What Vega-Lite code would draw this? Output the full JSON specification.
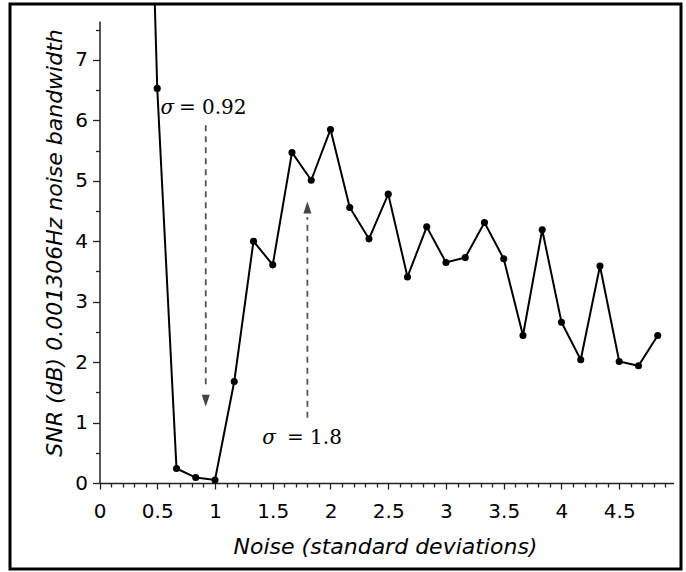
{
  "$schema": "https://vega.github.io/schema/vega-lite/v6.json",
  "width": 671,
  "height": 565,
  "autosize": {"type": "none"},
  "padding": {"left": 10, "top": 4, "right": 5, "bottom": 3},
  "background": "white",
  "config": {
    "view": {"stroke": "black", "strokeWidth": 3},
    "axis": {
      "grid": false,
      "labelFlush": false,
      "labelOverlap": false,
      "labelFont": "DejaVu Sans",
      "labelColor": "black",
      "tickColor": "#222",
      "tickWidth": 1.3,
      "domainColor": "#222",
      "domainWidth": 1.5,
      "titleFont": "DejaVu Sans",
      "titleFontStyle": "italic",
      "titleFontWeight": "normal",
      "titleColor": "black"
    }
  },
  "datasets": {
    "snr": [
      {"noise": 0.3333, "snr": 17.5},
      {"noise": 0.5, "snr": 6.53},
      {"noise": 0.6667, "snr": 0.24},
      {"noise": 0.8333, "snr": 0.09},
      {"noise": 1.0, "snr": 0.05},
      {"noise": 1.1667, "snr": 1.68},
      {"noise": 1.3333, "snr": 4.0},
      {"noise": 1.5, "snr": 3.61},
      {"noise": 1.6667, "snr": 5.47},
      {"noise": 1.8333, "snr": 5.01},
      {"noise": 2.0, "snr": 5.85},
      {"noise": 2.1667, "snr": 4.56},
      {"noise": 2.3333, "snr": 4.04},
      {"noise": 2.5, "snr": 4.78},
      {"noise": 2.6667, "snr": 3.41},
      {"noise": 2.8333, "snr": 4.24},
      {"noise": 3.0, "snr": 3.65},
      {"noise": 3.1667, "snr": 3.73},
      {"noise": 3.3333, "snr": 4.31},
      {"noise": 3.5, "snr": 3.71},
      {"noise": 3.6667, "snr": 2.44},
      {"noise": 3.8333, "snr": 4.19},
      {"noise": 4.0, "snr": 2.66},
      {"noise": 4.1667, "snr": 2.04},
      {"noise": 4.3333, "snr": 3.59},
      {"noise": 4.5, "snr": 2.01},
      {"noise": 4.6667, "snr": 1.94},
      {"noise": 4.8333, "snr": 2.44}
    ],
    "arrows": [
      {"sigma": 0.92, "tail": 5.92, "end": 1.59, "head": 1.36, "dir": "down", "labelY": 6.21, "eq": "= 0.92"},
      {"sigma": 1.8, "tail": 1.08, "end": 4.40, "head": 4.56, "dir": "up", "labelY": 0.75, "eq": "= 1.8"}
    ]
  },
  "resolve": {"axis": {"x": "independent", "y": "independent"}},
  "layer": [
    {
      "data": {"name": "snr"},
      "mark": {"type": "line", "color": "black", "strokeWidth": 2, "clip": true},
      "encoding": {
        "x": {
          "field": "noise", "type": "quantitative",
          "scale": {"domain": [0, 4.97], "range": [89.5, 663.5], "nice": false, "zero": false},
          "axis": {
            "orient": "bottom", "offset": -86,
            "values": [0, 0.5, 1, 1.5, 2, 2.5, 3, 3.5, 4, 4.5],
            "format": "~g",
            "tickSize": 6, "labelFontSize": 20, "labelPadding": 12,
            "title": "Noise (standard deviations)", "titleFontSize": 22,
            "titleBaseline": "alphabetic", "titleY": 70, "titleX": 375
          }
        },
        "y": {
          "field": "snr", "type": "quantitative",
          "scale": {"domain": [0, 7.645], "range": [479, 17], "nice": false, "zero": false},
          "axis": {
            "orient": "left", "offset": -89.5,
            "values": [0, 1, 2, 3, 4, 5, 6, 7],
            "tickSize": 7, "labelFontSize": 20, "labelPadding": 5,
            "title": "SNR (dB) 0.001306Hz noise bandwidth", "titleFontSize": 22,
            "titleAngle": -90, "titleAlign": "center", "titleBaseline": "alphabetic",
            "titleX": -38.5, "titleY": 238.5
          }
        }
      }
    },
    {
      "data": {"name": "snr"},
      "mark": {"type": "point", "shape": "circle", "filled": true, "color": "black", "opacity": 1, "size": 50, "clip": true},
      "encoding": {
        "x": {
          "field": "noise", "type": "quantitative",
          "axis": {
            "orient": "bottom", "offset": -86, "domain": false, "labels": false, "title": null,
            "tickSize": 4,
            "values": [0.1, 0.2, 0.3, 0.4, 0.6, 0.7, 0.8, 0.9, 1.1, 1.2, 1.3, 1.4, 1.6, 1.7, 1.8, 1.9, 2.1, 2.2, 2.3, 2.4, 2.6, 2.7, 2.8, 2.9, 3.1, 3.2, 3.3, 3.4, 3.6, 3.7, 3.8, 3.9, 4.1, 4.2, 4.3, 4.4, 4.6, 4.7, 4.8, 4.9]
          }
        },
        "y": {
          "field": "snr", "type": "quantitative",
          "axis": {
            "orient": "left", "offset": -89.5, "domain": false, "labels": false, "title": null,
            "tickSize": 4,
            "values": [0.5, 1.5, 2.5, 3.5, 4.5, 5.5, 6.5, 7.5]
          }
        }
      }
    },
    {
      "data": {"name": "arrows"},
      "mark": {"type": "rule", "color": "#555", "strokeWidth": 1.8, "strokeDash": [6, 5]},
      "encoding": {
        "x": {"field": "sigma", "type": "quantitative", "axis": null},
        "y": {"field": "tail", "type": "quantitative", "axis": null},
        "y2": {"field": "end"}
      }
    },
    {
      "data": {"name": "arrows"},
      "mark": {"type": "point", "filled": true, "color": "#444", "opacity": 1, "size": 64},
      "encoding": {
        "x": {"field": "sigma", "type": "quantitative", "axis": null},
        "y": {"field": "head", "type": "quantitative", "axis": null},
        "shape": {
          "field": "dir", "type": "nominal", "legend": null,
          "scale": {"domain": ["down", "up"], "range": ["M-1,-1.5L1,-1.5L0,1.5Z", "M0,-1.5L1,1.5L-1,1.5Z"]}
        }
      }
    },
    {
      "data": {"name": "arrows"},
      "mark": {"type": "text", "text": "σ", "font": "DejaVu Serif", "fontStyle": "italic", "fontSize": 20, "align": "right", "baseline": "middle", "dx": -31.5, "color": "black"},
      "encoding": {
        "x": {"field": "sigma", "type": "quantitative", "axis": null},
        "y": {"field": "labelY", "type": "quantitative", "axis": null}
      }
    },
    {
      "data": {"name": "arrows"},
      "mark": {"type": "text", "font": "DejaVu Serif", "fontSize": 20, "align": "center", "baseline": "middle", "dx": 7, "color": "black"},
      "encoding": {
        "x": {"field": "sigma", "type": "quantitative", "axis": null},
        "y": {"field": "labelY", "type": "quantitative", "axis": null},
        "text": {"field": "eq"}
      }
    }
  ]
}
